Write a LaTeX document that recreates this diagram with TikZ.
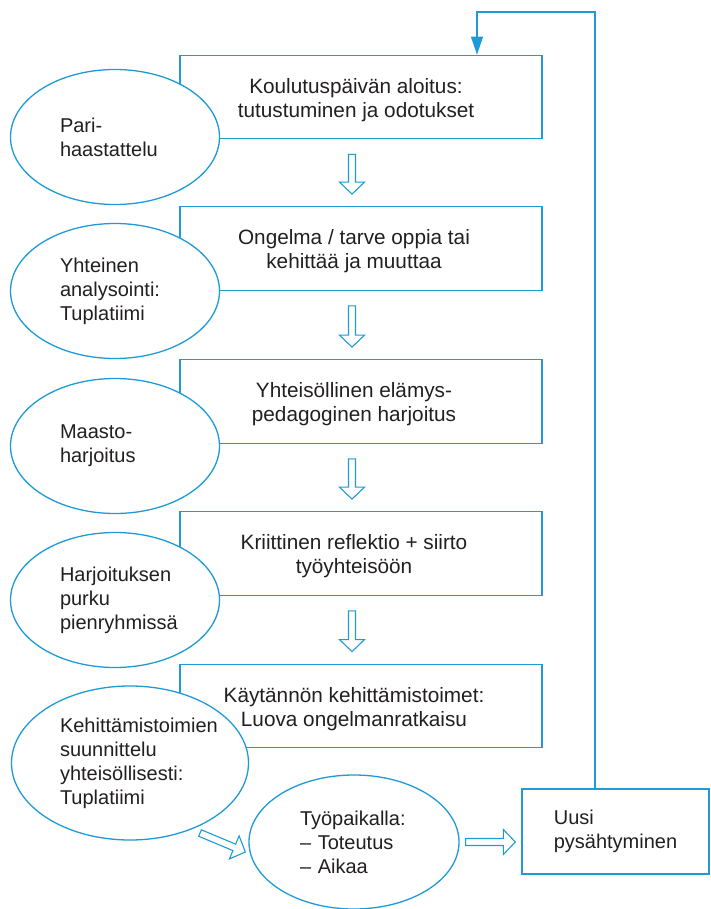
\documentclass[tikz,border=0pt]{standalone}
\usepackage{fontspec}
\setmainfont{Liberation Sans}
\usetikzlibrary{calc,arrows.meta,shapes.geometric}
\definecolor{bl}{RGB}{30,155,215}
\definecolor{tx}{RGB}{35,31,32}
\newcommand\hollowarrow[2]{%
  \coordinate (hh) at ($(#2)!12pt!(#1)$);
  \draw[hollowarr] ($(#1)!3.5pt!90:(#2)$) -- ($(hh)!3.5pt!90:(#2)$) -- ($(hh)!12.5pt!90:(#2)$) -- (#2) -- ($(hh)!12.5pt!-90:(#2)$) -- ($(hh)!3.5pt!-90:(#2)$) -- ($(#1)!3.5pt!-90:(#2)$) -- cycle;}
\begin{document}
\begin{tikzpicture}[x=1pt,y=-1pt,
  txt/.style={text=tx, font=\fontsize{20}{24}\selectfont},
  btxt/.style={text=tx, font=\fontsize{20.75}{24}\selectfont, align=center, inner sep=0pt},
  box/.style={draw=bl, line width=1.3pt, rectangle, inner sep=0pt, minimum width=362pt, minimum height=83.5pt},
  ell/.style={txt, draw=bl, line width=1.3pt, ellipse, fill=white, inner sep=0pt, align=left, text width=110pt, minimum width=209pt, minimum height=135pt},
  hollowarr/.style={draw=bl, line width=1.1pt, fill=white, line join=miter},
  fb/.style={draw=bl, line width=1.3pt}]
\useasboundingbox (0,0) rectangle (710,909);
% boxes
\node[box] (b1) at (361,97) {};
\node[box] (b2) at (361,248.5) {};
\node[box] (b3) at (361,401.5) {};
\node[box] (b4) at (361,553.5) {};
\node[box] (b5) at (361,706) {};
\node[btxt] (b1t) at ($(b1)+(-5,3)$) {Koulutuspäivän aloitus:\\tutustuminen ja odotukset};
\node[btxt] (b2t) at ($(b2)+(-7,3)$) {Ongelma / tarve oppia tai\\kehittää ja muuttaa};
\node[btxt] (b3t) at ($(b3)+(-7,3)$) {Yhteisöllinen elämys-\\pedagoginen harjoitus};
\node[btxt] (b4t) at ($(b4)+(-7,3)$) {Kriittinen reflektio + siirto\\työyhteisöön};
\node[btxt] (b5t) at ($(b5)+(-7,3)$) {Käytännön kehittämistoimet:\\Luova ongelmanratkaisu};
\node[box, txt, align=left, minimum width=187pt, minimum height=85pt] (b6) at (615.5,831.5) {Uusi\\pysähtyminen};
% ellipses
\node[ell] (e1) at (115,137) {Pari-\\haastattelu};
\node[ell] (e2) at (115,291) {Yhteinen\\analysointi:\\Tuplatiimi};
\node[ell] (e3) at (115,446) {Maasto-\\harjoitus};
\node[ell] (e4) at (115,600) {Harjoituksen\\purku\\pienryhmissä};
\node[ell, text width=140pt, minimum width=237pt, minimum height=154pt] (e5) at (130,763) {Kehittämistoimien\\suunnittelu\\yhteisöllisesti:\\Tuplatiimi};
\node[ell, text width=108pt, minimum width=210pt, minimum height=134pt] (e6) at (354,842) {Työpaikalla:\\– Toteutus\\– Aikaa};
% feedback
\coordinate (t1) at (595,12);
\coordinate (t2) at (477,12);
\draw[fb, -{Triangle[length=18pt,width=12pt]}] (t1 |- b6.north) -- (t1) -- (t2) -- (t2 |- b1.north);
% hollow arrows
\coordinate (ax) at (352,0);
\coordinate (s1) at ($(b1.south -| ax)+(0,15)$);
\coordinate (f1) at ($(b2.north -| ax)+(0,-12)$);
\coordinate (s2) at ($(b2.south -| ax)+(0,15)$);
\coordinate (f2) at ($(b3.north -| ax)+(0,-12)$);
\coordinate (s3) at ($(b3.south -| ax)+(0,15)$);
\coordinate (f3) at ($(b4.north -| ax)+(0,-12)$);
\coordinate (s4) at ($(b4.south -| ax)+(0,15)$);
\coordinate (f4) at ($(b5.north -| ax)+(0,-12)$);
\hollowarrow{s1}{f1}
\hollowarrow{s2}{f2}
\hollowarrow{s3}{f3}
\hollowarrow{s4}{f4}
\coordinate (s5) at ($(e5.-45)+(5,5)$);
\coordinate (f5) at ($(e6.west)+(-3,10)$);
\hollowarrow{s5}{f5}
\coordinate (s6) at ($(e6.east)+(6,0)$);
\coordinate (f6) at ($(b6.west |- e6.east)+(-6,0)$);
\hollowarrow{s6}{f6}
\end{tikzpicture}
\end{document}
